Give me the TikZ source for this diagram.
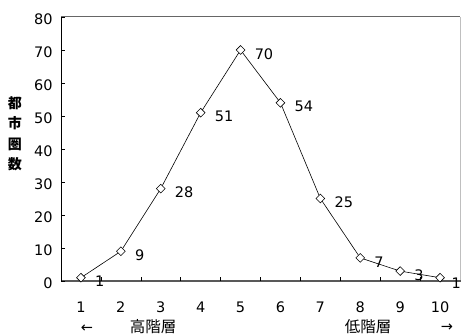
\documentclass[tikz,border=0pt]{standalone}
\usepackage{fontspec}
\setmainfont{DejaVu Sans}
\newfontfamily\jpfont{Noto Sans CJK JP}
\usetikzlibrary{shapes.geometric}

\tikzset{
  numlabel/.style={font=\fontsize{14.5}{16}\selectfont, inner sep=0pt},
  vallabel/.style={numlabel, anchor=west, xshift=14pt, yshift=-4pt},
  jplabel/.style={font=\jpfont\fontsize{15.5}{17}\selectfont, inner sep=0pt},
  datamark/.style={diamond, draw=black, fill=white, line width=0.6pt, inner sep=0pt, minimum size=9pt}
}

\begin{document}
\begin{tikzpicture}[x=1pt, y=1pt]

  \useasboundingbox (0,0) rectangle (461,335);

  % plot frame
  \draw[gray!80!black, line width=1pt] (61,318) -- (460,318);
  \draw[gray!50, line width=0.5pt] (460,318) -- (460,54);
  \draw[gray!70!black, line width=1.5pt] (61,54) -- (461,54);
  \draw[black, line width=0.8pt] (61,54) -- (61,318);

  \begin{scope}[shift={(61,54)}, x=39.9pt, y=3.3pt]

    % ticks and tick labels
    \foreach \v in {0,10,...,80}
      \draw[line width=0.6pt] (0,\v) -- ++(4pt,0) node[numlabel, anchor=east, xshift=-12pt, yshift=-2pt] (ylab\v) {\v};
    \foreach \k in {1,...,9}
      \draw[line width=0.6pt] (\k,0) -- ++(0,3.5pt);
    \foreach \k in {1,...,10}
      \node[numlabel] (xlab\k) at (\k-0.5,-26pt) {\k};

    % data
    \foreach \k/\n in {1/1,2/9,3/28,4/51,5/70,6/54,7/25,8/7,9/3,10/1}
      \coordinate (p\k) at (\k-0.5,\n);
    \draw[line width=0.6pt] (p1) -- (p2) -- (p3) -- (p4) -- (p5) -- (p6) -- (p7) -- (p8) -- (p9) -- (p10);
    \foreach \k/\n in {1/1,2/9,3/28,4/51,5/70,6/54,7/25,8/7,9/3} {
      \node[datamark] (m\k) at (p\k) {};
      \node[vallabel] (v\k) at (p\k) {\n};
    }
    \node[datamark] (m10) at (p10) {};

  \end{scope}

  % last value sits on the right edge
  \node[numlabel, anchor=east] (v10) at (461,52) {1};

  % axis titles
  \node[jplabel, align=center, font=\jpfont\bfseries\fontsize{14}{20.5}\selectfont] (ytitle) at (15,201) {都\\市\\圏\\数};
  \node[jplabel] (hi) at (153,8) {高階層};
  \node[jplabel] (lo) at (368,8) {低階層};
  \node[numlabel] (larr) at (87,6) {←};
  \node[numlabel] (rarr) at (447,7) {→};

\end{tikzpicture}
\end{document}
